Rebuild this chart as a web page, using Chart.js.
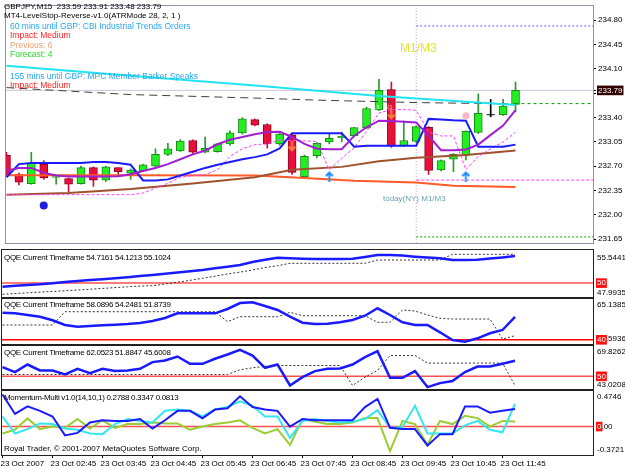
<!DOCTYPE html>
<html>
<head>
<meta charset="utf-8">
<title>GBPJPY M15</title>
<script src="https://cdn.jsdelivr.net/npm/chart.js@4.4.1/dist/chart.umd.min.js"></script>
<style>
  html, body { margin: 0; padding: 0; background: #fff; }
  body { position: relative; width: 625px; height: 469px; overflow: hidden; font-family: 'Liberation Sans', Arial, sans-serif; }
  .pane { position: absolute; left: 0; width: 625px; }
  .pane canvas { display: block; }
  .txt { position: absolute; white-space: nowrap; font-size: 8px; line-height: 10px; color: #000; }
  .news { font-size: 8.5px; }
  .sub { letter-spacing: -0.3px; }
</style>
</head>
<body>
<div class="pane" style="top:0;height:249px"><canvas id="mainChart" width="625" height="249"></canvas></div>
<div class="pane" style="top:249px;height:49px"><canvas id="qqe1Chart" width="625" height="49"></canvas></div>
<div class="pane" style="top:298px;height:47px"><canvas id="qqe2Chart" width="625" height="47"></canvas></div>
<div class="pane" style="top:345px;height:45px"><canvas id="qqe3Chart" width="625" height="45"></canvas></div>
<div class="pane" style="top:390px;height:79px"><canvas id="momChart" width="625" height="79"></canvas></div>

<div class="txt" style="left:4px;top:2px">GBPJPY,M15&nbsp; 233.59 233.91 233.48 233.79</div>
<div class="txt" style="left:4px;top:11px">MT4-LevelStop-Reverse-v1.0(ATRMode 28, 2, 1 )</div>
<div class="txt news" style="left:10px;top:21px;color:#2aa8ee">60 mins until GBP: CBI Industrial Trends Orders</div>
<div class="txt news" style="left:10px;top:30px;color:#ff2020">Impact: Medium</div>
<div class="txt news" style="left:10px;top:40px;color:#e8a070">Previous: 6</div>
<div class="txt news" style="left:10px;top:49px;color:#22dd22">Forecast: 4</div>
<div class="txt news" style="left:10px;top:71px;color:#2aa8ee">155 mins until GBP: MPC Member Barker Speaks</div>
<div class="txt news" style="left:10px;top:80px;color:#ff2020">Impact: Medium</div>
<div class="txt" style="left:400px;top:41px;font-size:12px;line-height:14px;color:#e6e62e">M1/M3</div>
<div class="txt" style="left:383px;top:194px;color:#6a9fb5">today(NY) M1/M3</div>
<div class="txt" style="left:373px;top:102px;font-size:6px;color:#e8ffe8">13</div>
<div class="txt" style="left:386px;top:102px;font-size:6px;color:#ffb090">23</div>

<div class="txt sub" style="left:4px;top:253px">QQE Current Timeframe 54.7161 54.1213 55.1024</div>
<div class="txt sub" style="left:4px;top:300px">QQE Current Timeframe 58.0896 54.2481 51.8739</div>
<div class="txt sub" style="left:4px;top:348px">QQE Current Timeframe 62.0523 51.8847 45.6008</div>
<div class="txt sub" style="left:4px;top:393px">Momentum-Multi v1.0(14,10,1) 0.2788 0.3347 0.0813</div>
<div class="txt" style="left:4px;top:444px">Royal Trader, © 2001-2007 MetaQuotes Software Corp.</div>

<script>
// price candles, one per M15 bar (bar 0 = first bar on screen)
const candleOpen  = [232.86,232.58,232.45,232.73,232.54,232.52,232.45,232.68,232.50,232.68,232.60,232.63,232.70,232.87,232.92,233.07,232.90,232.91,233.02,233.18,233.37,233.30,233.02,233.15,232.55,232.85,233.05,233.11,233.14,233.255,233.51,233.80,232.99,233.055,233.26,232.645,232.80,232.86,233.185,233.44,233.44,233.59];
const candleHigh  = [232.90,232.60,232.90,232.78,232.58,232.53,232.70,232.69,232.70,232.68,232.66,232.73,232.95,233.03,233.08,233.08,233.12,233.03,233.21,233.40,233.38,233.31,233.17,233.16,232.86,233.04,233.16,233.19,233.26,233.55,233.95,233.91,233.35,233.28,233.27,232.79,232.88,233.21,233.74,233.66,233.66,233.91];
const candleLow   = [232.55,232.43,232.44,232.51,232.44,232.33,232.44,232.41,232.48,232.57,232.51,232.62,232.68,232.85,232.91,232.88,232.89,232.90,233.00,233.16,233.28,232.96,233.00,232.58,232.54,232.82,233.02,233.05,233.12,233.24,233.50,232.97,232.98,233.04,232.58,232.63,232.62,232.79,233.17,233.41,233.43,233.48];
const candleClose = [232.58,232.47,232.74,232.53,232.55,232.44,232.68,232.50,232.69,232.62,232.645,232.72,232.87,232.95,233.06,232.90,232.955,233.02,233.18,233.38,233.29,233.02,233.16,232.61,232.84,233.03,233.10,233.13,233.255,233.53,233.79,232.99,233.07,233.27,232.64,232.78,232.87,233.20,233.46,233.44,233.565,233.79];

// indicators on the price window
const levelStop   = [232.54,232.73,232.745,232.745,232.745,232.745,232.745,232.76,232.76,232.745,232.72,232.495,232.495,232.51,232.565,232.62,232.675,232.72,232.76,232.80,232.83,232.87,232.955,233.175,233.175,233.175,233.175,233.175,232.98,232.995,232.995,232.995,232.995,232.995,233.38,233.37,233.36,233.355,232.98,232.98,232.98,233.01];
const purpleLine  = [232.635,232.675,232.675,232.605,232.565,232.55,232.55,232.55,232.55,232.555,232.585,232.63,232.675,232.73,232.80,232.87,232.925,233.015,233.08,233.12,233.16,233.19,233.195,233.12,233.02,232.95,232.945,232.945,233.135,233.26,233.355,233.35,233.34,233.33,233.135,232.93,232.93,232.94,233.01,233.15,233.285,233.505];
const trailStop   = [232.29,232.29,232.29,232.29,232.29,232.29,232.29,232.29,232.29,232.29,232.29,232.315,232.385,232.455,232.54,232.565,232.58,232.65,232.84,232.95,233.01,233.02,233.075,233.07,233.065,233.055,232.65,232.815,232.965,233.20,233.465,233.515,233.515,233.505,233.19,233.135,233.135,232.65,232.84,232.95,233.05,233.19];
const cyanBars    = [0, 10, 20, 30, 41];
const cyanValues  = [234.144, 234.00, 233.86, 233.71, 233.58];
const dashBars    = [0, 10, 20, 25, 33, 41];
const dashValues  = [233.83, 233.73, 233.68, 233.65, 233.615, 233.595];
const orangeBars  = [0, 10, 20, 24, 28, 33, 36, 41];
const orangeValues= [232.57, 232.57, 232.565, 232.53, 232.49, 232.465, 232.42, 232.40];
const brownBars   = [0, 5, 10, 15, 20, 23, 27, 30, 33, 37, 41];
const brownValues = [232.29, 232.315, 232.37, 232.45, 232.54, 232.65, 232.69, 232.77, 232.82, 232.86, 232.925];
const sessionBar  = 33;
const sessionHigh = 234.717, sessionMid = 232.50, sessionLow = 231.682;
const pivotPrice  = 233.60;
const buyArrowBars = [26, 37], buyArrowPrices = [232.55, 232.55];
const sellArrowBars = [23, 31], sellArrowPrices = [232.99, 233.45];
const blueDot = {x: 3, y: 232.135};
const pinkDot = {x: 37, y: 233.424};
const priceTicks = [234.80, 234.45, 234.10, 233.75, 233.40, 233.05, 232.70, 232.35, 232.00, 231.65];

// QQE windows
const qqe1Rsi   = [49.22,49.40,49.57,49.74,49.98,50.22,50.46,50.66,50.86,51.05,51.29,51.53,51.77,52.04,52.31,52.58,52.86,53.22,53.59,53.95,54.61,55.10,55.54,55.40,55.30,55.26,55.26,55.26,55.30,55.70,56.13,56.13,56.00,55.76,55.58,55.41,55.04,55.04,55.10,55.35,55.60,55.91];
const qqe1Trail = [47.56,47.72,47.88,48.03,48.18,48.33,48.49,48.66,48.84,49.02,49.20,49.36,49.43,49.80,50.20,50.60,51.05,51.50,52.00,52.40,52.86,53.40,53.80,54.32,54.32,54.32,54.32,54.32,54.32,54.32,55.04,55.04,55.04,55.04,55.04,55.04,56.29,56.29,56.29,56.29,56.29,56.29];
const qqe2Rsi   = [59.58,59.14,57.92,56.69,54.09,50.70,49.47,49.98,50.48,50.92,51.42,52.14,53.59,55.75,59.14,59.14,59.14,59.14,62.25,66.58,67.09,64.42,61.53,56.69,52.36,51.42,51.64,52.65,54.31,57.41,62.76,57.92,52.65,50.70,50.70,45.43,39.87,38.64,41.10,44.71,47.09,56.50];
const qqe2Trail = [50.70,50.70,50.70,50.70,50.70,60.30,60.30,60.30,60.30,60.30,60.30,60.30,60.30,60.30,60.30,60.30,60.30,60.30,53.08,56.69,56.69,56.69,56.69,59.87,57.41,57.41,57.41,57.41,57.41,57.41,52.65,52.65,61.53,60.80,57.92,55.53,55.03,55.03,55.03,55.03,40.59,42.97];
const qqe3Rsi   = [57.35,53.40,59.52,54.69,54.69,51.47,56.06,52.60,56.06,54.21,54.69,56.06,61.45,62.74,65.96,60.09,60.09,64.11,67.57,71.36,66.77,56.87,59.52,42.62,49.38,54.21,56.06,56.30,59.52,65.40,70.23,48.81,48.81,54.21,41.33,44.55,46.16,53.40,57.91,57.91,60.09,62.60];
const qqe3Trail = [51.47,51.47,51.47,51.47,51.47,51.47,51.47,51.47,51.47,51.47,51.47,51.47,51.47,51.47,51.47,51.47,51.47,51.47,51.47,55.26,56.87,58.00,58.72,58.72,58.72,58.72,58.72,58.72,42.62,49.38,54.69,66.77,66.77,66.77,60.65,60.65,60.65,60.65,60.65,60.65,60.65,42.62];

// Momentum-Multi window
const momBlue  = [0.51,0.20,0.32,0.25,0.16,-0.14,-0.10,0.065,0.10,0.09,0.09,0.12,-0.03,0.10,0.25,0.25,0.13,0.27,0.29,0.48,0.31,0.27,0.25,0.00,0.12,0.10,0.10,0.10,0.10,0.31,0.44,-0.02,-0.04,-0.04,-0.30,-0.12,-0.12,0.32,0.32,0.22,0.25,0.28];
const momCyan  = [0.16,-0.11,-0.04,0.05,0.04,-0.03,-0.05,-0.11,-0.12,0.04,0.12,0.09,0.065,0.25,0.27,0.25,0.16,0.27,0.31,0.40,0.33,0.16,0.16,-0.18,0.09,0.12,0.09,0.065,0.075,0.12,0.26,-0.02,-0.005,0.33,-0.11,-0.11,-0.11,0.02,0.09,-0.05,-0.09,0.36];
const momGreen = [-0.11,-0.05,0.13,-0.04,0.00,-0.02,0.12,-0.03,0.10,-0.02,0.04,0.04,0.065,0.05,0.05,-0.05,0.00,0.04,0.065,0.10,-0.02,-0.11,-0.04,-0.29,0.12,0.075,0.04,0.04,0.065,0.135,0.135,-0.39,0.09,0.04,-0.29,0.09,0.04,0.17,0.135,0.00,0.09,0.08];

// time axis
const timeTickBars = [0, 4, 8, 12, 16, 20, 24, 28, 32, 36, 40];
const timeLabels = ['23 Oct 2007','23 Oct 02:45','23 Oct 03:45','23 Oct 04:45','23 Oct 05:45','23 Oct 06:45','23 Oct 07:45','23 Oct 08:45','23 Oct 09:45','23 Oct 10:45','23 Oct 11:45'];

// visible bar range of the windows
const xMin = -0.04, xMax = 47.24;

Chart.defaults.font.family = "'Liberation Sans', Arial, sans-serif";
Chart.defaults.font.size = 8;
Chart.defaults.color = '#000';
Chart.defaults.animation = false;
Chart.defaults.events = [];
Chart.defaults.plugins.legend.display = false;
Chart.defaults.plugins.tooltip.enabled = false;
Chart.defaults.elements.point.radius = 0;
Chart.defaults.elements.line.tension = 0;

const toPts = vals => vals.map((v, i) => ({x: i, y: v}));
const pairPts = (bars, vals) => bars.map((b, i) => ({x: b, y: vals[i]}));
const hLine = (y, from, to) => [{x: from, y: y}, {x: to, y: y}];

function lineSet(data, color, width, order, extra) {
	return Object.assign({type: 'line', data: data, borderColor: color, borderWidth: width, pointRadius: 0, fill: false, order: order}, extra || {});
}

// small arrow glyphs used as point styles
function arrowGlyph(color, down) {
	const c = document.createElement('canvas');
	c.width = 9; c.height = 11;
	const g = c.getContext('2d');
	if (down) { g.translate(0, 11); g.scale(1, -1); }
	g.strokeStyle = color;
	g.lineWidth = 2;
	g.beginPath();
	g.moveTo(1, 5); g.lineTo(4.5, 1.5); g.lineTo(8, 5);
	g.moveTo(4.5, 2); g.lineTo(4.5, 11);
	g.stroke();
	return c;
}

// frame around each plotting area
const frame = {
	id: 'frame',
	afterDraw(chart, args, opts) {
		const {ctx, chartArea: a} = chart;
		ctx.save();
		ctx.strokeStyle = opts.color || '#000';
		ctx.lineWidth = 1;
		ctx.strokeRect(Math.round(a.left) - 0.5, Math.round(a.top) - 0.5, Math.round(a.right - a.left) + 1, Math.round(a.bottom - a.top) + 1);
		ctx.restore();
	}
};

function xAxis(show) {
	const ax = {type: 'linear', min: xMin, max: xMax, bounds: 'data', offset: false, display: show, grid: {offset: false}};
	if (show) {
		Object.assign(ax, {
			position: 'bottom',
			afterFit(s) { s.height = 14; s.paddingLeft = 0; s.paddingRight = 0; },
			afterBuildTicks(s) { s.ticks = timeTickBars.map(v => ({value: v})); },
			border: {display: false},
			grid: {offset: false, drawOnChartArea: false, drawTicks: true, tickLength: 3, color: '#000'},
			ticks: {autoSkip: false, maxRotation: 0, align: 'start', padding: 1, labelOffset: -2,
				callback: (v, i) => timeLabels[i]}
		});
	}
	return ax;
}

function yAxis(min, max, ticks, labels, boxes, marks) {
	return {
		position: 'right', min: min, max: max, bounds: 'data',
		afterFit(s) { s.width = 32; s.paddingTop = 0; s.paddingBottom = 0; },
		afterBuildTicks(s) { s.ticks = ticks.map(v => ({value: v})); },
		border: {display: false},
		grid: {drawOnChartArea: false, drawTicks: marks, tickLength: 3, color: '#000'},
		ticks: {
			autoSkip: false,
			padding: marks ? 2 : 4,
			callback: (v, i) => labels[i],
			color: c => boxes[c.index] ? '#fff' : '#000',
			showLabelBackdrop: true,
			backdropColor: c => boxes[c.index] || 'rgba(0,0,0,0)',
			backdropPadding: {left: 1, right: 1, top: 0, bottom: 0}
		}
	};
}

// ---------------- price window ----------------
const lastClose = candleClose[candleClose.length - 1];
const mainMin = 231.595, mainMax = 235.004;
const candleFill = candleClose.map((c, i) => c > candleOpen[i] ? '#22ee22' : (c < candleOpen[i] ? '#e8103a' : '#000'));
const candleEdge = candleClose.map((c, i) => c > candleOpen[i] ? '#1a8a1a' : (c < candleOpen[i] ? '#900020' : '#000'));
const wickColor = candleClose.map((c, i) => c > candleOpen[i] ? '#2a9a2a' : (c < candleOpen[i] ? '#d01030' : '#000'));
const dojiPts = candleOpen.map((o, i) => ({x: i, y: o})).filter((p, i) => candleOpen[i] === candleClose[i]);
const mainTicks = priceTicks.concat([lastClose]);
const mainLabels = mainTicks.map(v => v.toFixed(2));
const mainBoxes = mainTicks.map((v, i) => i === mainTicks.length - 1 ? '#300000' : null);

new Chart(document.getElementById('mainChart'), {
	type: 'line',
	data: {
		datasets: [
			{type: 'scatter', data: pairPts(buyArrowBars, buyArrowPrices), pointStyle: arrowGlyph('#1e90ff', false), pointRadius: 5, order: 0},
			{type: 'scatter', data: pairPts(sellArrowBars, sellArrowPrices), pointStyle: arrowGlyph('#ff8040', true), pointRadius: 5, order: 0},
			{type: 'scatter', data: [blueDot], pointStyle: 'circle', pointRadius: 4, backgroundColor: '#1e1ee6', borderWidth: 0, order: 0},
			{type: 'scatter', data: [pinkDot], pointStyle: 'circle', pointRadius: 3.5, backgroundColor: '#ffb4c4', borderWidth: 0, order: 0},
			lineSet(toPts(purpleLine), '#a020d0', 2, 1),
			lineSet(toPts(levelStop), '#1a1aff', 2, 1),
			lineSet(toPts(trailStop), '#ff40ff', 1, 2, {borderDash: [3, 2]}),
			lineSet(pairPts(brownBars, brownValues), '#a0522d', 2, 3),
			lineSet(pairPts(orangeBars, orangeValues), '#ff5a28', 2, 3),
			lineSet(pairPts(cyanBars, cyanValues), '#22e4f0', 2, 4),
			lineSet(pairPts(dashBars, dashValues), '#404040', 1, 4, {borderDash: [8, 5]}),
			lineSet(hLine(sessionHigh, sessionBar, xMax), '#6060ff', 1, 5, {borderDash: [2, 2]}),
			lineSet(hLine(sessionMid, sessionBar, xMax), '#ff40ff', 1, 5, {borderDash: [3, 2]}),
			lineSet(hLine(sessionLow, sessionBar, xMax), '#00a000', 1, 5, {borderDash: [2, 2]}),
			lineSet(hLine(pivotPrice, candleClose.length - 1, xMax), '#00a000', 1, 5, {borderDash: [3, 3]}),
			{type: 'scatter', data: dojiPts, pointStyle: 'line', pointRadius: 4, borderColor: '#000', borderWidth: 1, order: 6},
			{type: 'bar', data: candleOpen.map((o, i) => ({x: i, y: [o, candleClose[i]]})), backgroundColor: candleFill, borderColor: candleEdge, borderWidth: 1, borderSkipped: false, barThickness: 8, grouped: false, order: 6},
			{type: 'bar', data: candleLow.map((l, i) => ({x: i, y: [l, candleHigh[i]]})), backgroundColor: wickColor, borderWidth: 0, barThickness: 1, grouped: false, order: 7},
			lineSet(hLine(lastClose, xMin, xMax), '#c8c8dc', 1, 8),
			lineSet([{x: sessionBar, y: mainMin}, {x: sessionBar, y: mainMax}], '#d0a0d8', 1, 8, {borderDash: [1, 2]})
		]
	},
	options: {
		responsive: false,
		layout: {padding: {left: 2, right: 0, top: 2, bottom: 1}},
		scales: {
			x: xAxis(false),
			y: yAxis(mainMin, mainMax, mainTicks, mainLabels, mainBoxes, true)
		},
		plugins: {frame: {color: '#9090a8'}}
	},
	plugins: [frame]
});

// ---------------- indicator windows ----------------
function indicatorWindow(id, lines, level, levelColor, range, ticks, labels, showTime) {
	const boxes = ticks.map((v, i) => i === ticks.length - 1 ? '#ff1010' : null);
	const sets = lines.map((l, k) => lineSet(toPts(l.data), l.color, l.width, k, l.extra));
	sets.push(lineSet(hLine(level, xMin, xMax), levelColor, 1.5, 9));
	new Chart(document.getElementById(id), {
		type: 'line',
		data: {datasets: sets},
		options: {
			responsive: false,
			layout: {padding: {left: 2, right: 0, top: 1, bottom: showTime ? 0 : 1}},
			scales: {
				x: xAxis(showTime),
				y: yAxis(range[0], range[1], ticks, labels, boxes, false)
			},
			plugins: {frame: {color: '#202020'}}
		},
		plugins: [frame]
	});
}

indicatorWindow('qqe1Chart',
	[{data: qqe1Rsi, color: '#1a1aff', width: 2.5}, {data: qqe1Trail, color: '#333', width: 1, extra: {borderDash: [2, 2]}}],
	50, '#ff5050', [46.968, 57.225], [55.5441, 47.9935, 50], ['55.5441', '47.9935', '50'], false);

indicatorWindow('qqe2Chart',
	[{data: qqe2Rsi, color: '#1a1aff', width: 2.5}, {data: qqe2Trail, color: '#333', width: 1, extra: {borderDash: [2, 2]}}],
	40, '#ff0000', [36.98, 69.47], [65.1385, 40.5936, 40], ['65.1385', '40.5936', '40'], false);

indicatorWindow('qqe3Chart',
	[{data: qqe3Rsi, color: '#1a1aff', width: 2.5}, {data: qqe3Trail, color: '#333', width: 1, extra: {borderDash: [2, 2]}}],
	50, '#ff5050', [39.80, 74.41], [69.8262, 43.0208, 50], ['69.8262', '43.0208', '50'], false);

indicatorWindow('momChart',
	[{data: momBlue, color: '#1a1aff', width: 2}, {data: momCyan, color: '#33e6f0', width: 2}, {data: momGreen, color: '#9acd32', width: 2}],
	0, '#ff5050', [-0.4515, 0.565], [0.4746, -0.3721, 0, 0], ['0.4746', '-0.3721', '0.00', '0'], true);
</script>
</body>
</html>
